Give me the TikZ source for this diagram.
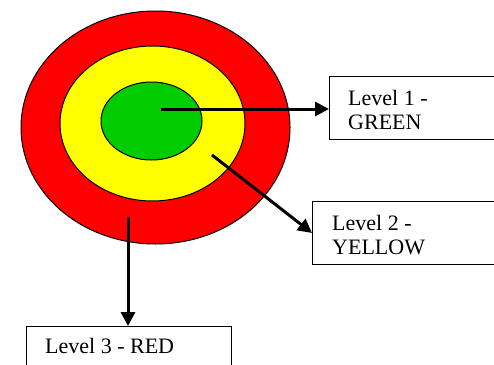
\documentclass[tikz,border=0pt]{standalone}
\usepackage{fontspec}
\setmainfont{Liberation Serif}
\usetikzlibrary{shapes.geometric,arrows.meta}
\definecolor{tred}{RGB}{255,0,0}
\definecolor{tyellow}{RGB}{255,255,0}
\definecolor{tgreen}{RGB}{0,204,0}
\begin{document}
\begin{tikzpicture}[x=1pt,y=-1pt,
  ring/.style={draw=black, line width=1pt, ellipse, inner sep=0pt},
  lvlbox/.style={draw=black, line width=1pt, rectangle, anchor=north west, inner sep=0pt},
  lbl/.style={anchor=base west, inner sep=0pt, font=\fontsize{22}{24}\selectfont},
  arr/.style={line width=3pt, -{Triangle[length=14pt,width=14pt]}}]
\useasboundingbox (0,0) rectangle (494,364);
\clip (0,0) rectangle (494,364);
\node[ring, fill=tred, minimum width=269pt, minimum height=233pt] (outer) at (155.5,127.5) {};
\node[ring, fill=tyellow, minimum width=185pt, minimum height=155pt] (mid) at (152.5,123.5) {};
\node[ring, fill=tgreen, minimum width=101pt, minimum height=78pt] (inner) at (151.5,121) {};
\node[lvlbox, minimum width=180pt, minimum height=63pt] (b1) at (329,76) {};
\node[lvlbox, minimum width=200pt, minimum height=63pt] (b2) at (312,201) {};
\node[lvlbox, minimum width=205pt, minimum height=60pt] (b3) at (26,326) {};
\coordinate (s1) at (161,109);
\coordinate (s2) at (212,155);
\coordinate (s3) at (128,217);
\draw[arr] (s1) -- (b1.west |- s1);
\draw[arr] (s2) -- (b2.west);
\draw[arr] (s3) -- (s3 |- b3.north);
\node[lbl] (t1a) at (348,105) {Level 1 -};
\node[lbl] (t1b) at (348,129) {GREEN};
\node[lbl] (t2a) at (332,230) {Level 2 -};
\node[lbl] (t2b) at (332,254) {YELLOW};
\node[lbl] (t3) at (45,353) {Level 3 - RED};
\end{tikzpicture}
\end{document}
